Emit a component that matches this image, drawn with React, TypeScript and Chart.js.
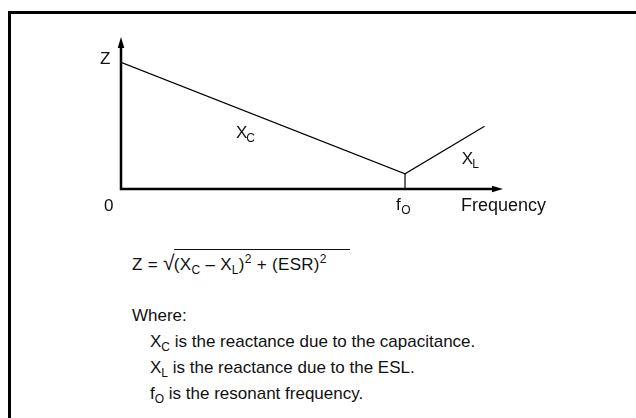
import React, { useEffect, useRef } from "react";
import { Chart, registerables } from "chart.js";

Chart.register(...registerables);

// Frequency (arbitrary units) and impedance |Z| (arbitrary units)
const frequency = [0, 10, 12.8];
const impedance = [10, 1.2, 4.95];
const resonanceFrequency = 10;
const resonanceImpedance = 1.2;
const axisMaxX = 13.45;
const axisMaxY = 12;

const FONT = '"Liberation Sans", Arial, Helvetica, sans-serif';

const axesPlugin = {
  id: "axesWithArrows",
  beforeDatasetsDraw(chart: any) {
    const { ctx, scales } = chart;
    const x = scales.x;
    const y = scales.y;
    const x0 = x.getPixelForValue(0);
    const y0 = y.getPixelForValue(0);
    const xEnd = x.getPixelForValue(axisMaxX);
    const yTop = y.getPixelForValue(axisMaxY);
    ctx.save();
    ctx.strokeStyle = "#000";
    ctx.fillStyle = "#000";
    ctx.lineWidth = 2.5;
    ctx.lineJoin = "miter";
    ctx.beginPath();
    ctx.moveTo(x0, yTop + 8);
    ctx.lineTo(x0, y0);
    ctx.lineTo(xEnd - 8, y0);
    ctx.stroke();
    ctx.beginPath();
    ctx.moveTo(x0, yTop);
    ctx.lineTo(x0 - 3.3, yTop + 11);
    ctx.lineTo(x0 + 3.3, yTop + 11);
    ctx.closePath();
    ctx.fill();
    ctx.beginPath();
    ctx.moveTo(xEnd, y0);
    ctx.lineTo(xEnd - 11, y0 - 3.3);
    ctx.lineTo(xEnd - 11, y0 + 3.3);
    ctx.closePath();
    ctx.fill();
    ctx.restore();
  },
  afterDraw(chart: any) {
    const { ctx, scales } = chart;
    const x = scales.x;
    const y = scales.y;
    const x0 = x.getPixelForValue(0);
    const y0 = y.getPixelForValue(0);
    const xf = x.getPixelForValue(resonanceFrequency);
    const xEnd = x.getPixelForValue(axisMaxX);
    ctx.save();
    ctx.fillStyle = "#111";
    ctx.textBaseline = "alphabetic";
    const big = `17px ${FONT}`;
    const small = `12px ${FONT}`;
    const txt = (s: string, px: number, py: number, f: string) => {
      ctx.font = f;
      ctx.fillText(s, px, py);
      return ctx.measureText(s).width;
    };
    // Z
    txt("Z", x0 - 21, y.getPixelForValue(impedance[0]) + 2, big);
    // 0
    txt("0", x0 - 17, y0 + 22, big);
    // f_O
    let w = txt("f", xf - 9, y0 + 21, big);
    txt("O", xf - 9 + w + 0.5, y0 + 25, small);
    // Frequency
    txt("Frequency", xEnd - 42, y0 + 22, `18px ${FONT}`);
    // X_C
    const xc = x.getPixelForValue(4.05);
    const yc = y.getPixelForValue(4.0);
    w = txt("X", xc, yc, big);
    txt("C", xc + w - 1, yc + 4, small);
    // X_L
    const xl = x.getPixelForValue(12.0);
    const yl = y.getPixelForValue(2.0);
    w = txt("X", xl, yl, big);
    txt("L", xl + w - 1, yl + 4, small);
    ctx.restore();
  },
};

const subStyle: React.CSSProperties = {
  fontSize: 12,
  verticalAlign: -4,
  lineHeight: 0,
};
const supStyle: React.CSSProperties = {
  fontSize: 12,
  verticalAlign: 7,
  lineHeight: 0,
};

export default function App() {
  const canvasRef = useRef<HTMLCanvasElement | null>(null);

  useEffect(() => {
    document.body.style.overflow = "hidden";
    const canvas = canvasRef.current;
    if (!canvas) return;
    const chart = new Chart(canvas, {
      type: "scatter",
      data: {
        datasets: [
          {
            label: "Z",
            data: frequency.map((f, i) => ({ x: f, y: impedance[i] })),
            showLine: true,
            borderColor: "#000",
            borderWidth: 1.2,
            pointRadius: 0,
            tension: 0,
          },
          {
            label: "fO",
            data: [
              { x: resonanceFrequency, y: 0 },
              { x: resonanceFrequency, y: resonanceImpedance },
            ],
            showLine: true,
            borderColor: "#000",
            borderWidth: 1.2,
            pointRadius: 0,
          },
        ],
      },
      options: {
        responsive: false,
        animation: false,
        events: [],
        layout: { padding: { left: 121, top: 37, right: 636 - 503, bottom: 240 - 189 } },
        plugins: { legend: { display: false }, tooltip: { enabled: false } },
        scales: {
          x: { type: "linear", min: 0, max: axisMaxX, display: false },
          y: { type: "linear", min: 0, max: axisMaxY, display: false },
        },
      },
      plugins: [axesPlugin],
    });
    return () => chart.destroy();
  }, []);

  const textBase: React.CSSProperties = {
    position: "absolute",
    fontFamily: FONT,
    fontSize: 17,
    lineHeight: "20px",
    color: "#111",
    whiteSpace: "nowrap",
    margin: 0,
  };

  return (
    <div style={{ position: "fixed", left: 0, top: 0, width: 636, height: 418, overflow: "hidden", background: "#fff" }}>
      <div
        style={{
          position: "absolute",
          left: 8,
          top: 11,
          width: 700,
          height: 500,
          border: "3px solid #000",
          boxSizing: "border-box",
        }}
      />
      <canvas
        ref={canvasRef}
        width={636}
        height={240}
        style={{ position: "absolute", left: 0, top: 0, width: 636, height: 240 }}
      />
      <div style={{ ...textBase, left: 132, top: 249, letterSpacing: 0.3 }}>
        Z ={" "}
        <span style={{ fontSize: 21, lineHeight: 0, marginRight: -1 }}>√</span>
        <span
          style={{
            borderTop: "1px solid #111",
            paddingTop: 5,
            paddingRight: 23,
            display: "inline-block",
            lineHeight: "20px",
          }}
        >
          (X<span style={subStyle}>C</span> – X<span style={subStyle}>L</span>)<span style={supStyle}>2</span> + (ESR)
          <span style={supStyle}>2</span>
        </span>
      </div>
      <div style={{ ...textBase, left: 132, top: 306 }}>Where:</div>
      <div style={{ ...textBase, left: 150, top: 332 }}>
        X<span style={subStyle}>C</span> is the reactance due to the capacitance.
      </div>
      <div style={{ ...textBase, left: 150, top: 358 }}>
        X<span style={subStyle}>L</span> is the reactance due to the ESL.
      </div>
      <div style={{ ...textBase, left: 150, top: 384 }}>
        f<span style={subStyle}>O</span> is the resonant frequency.
      </div>
    </div>
  );
}
